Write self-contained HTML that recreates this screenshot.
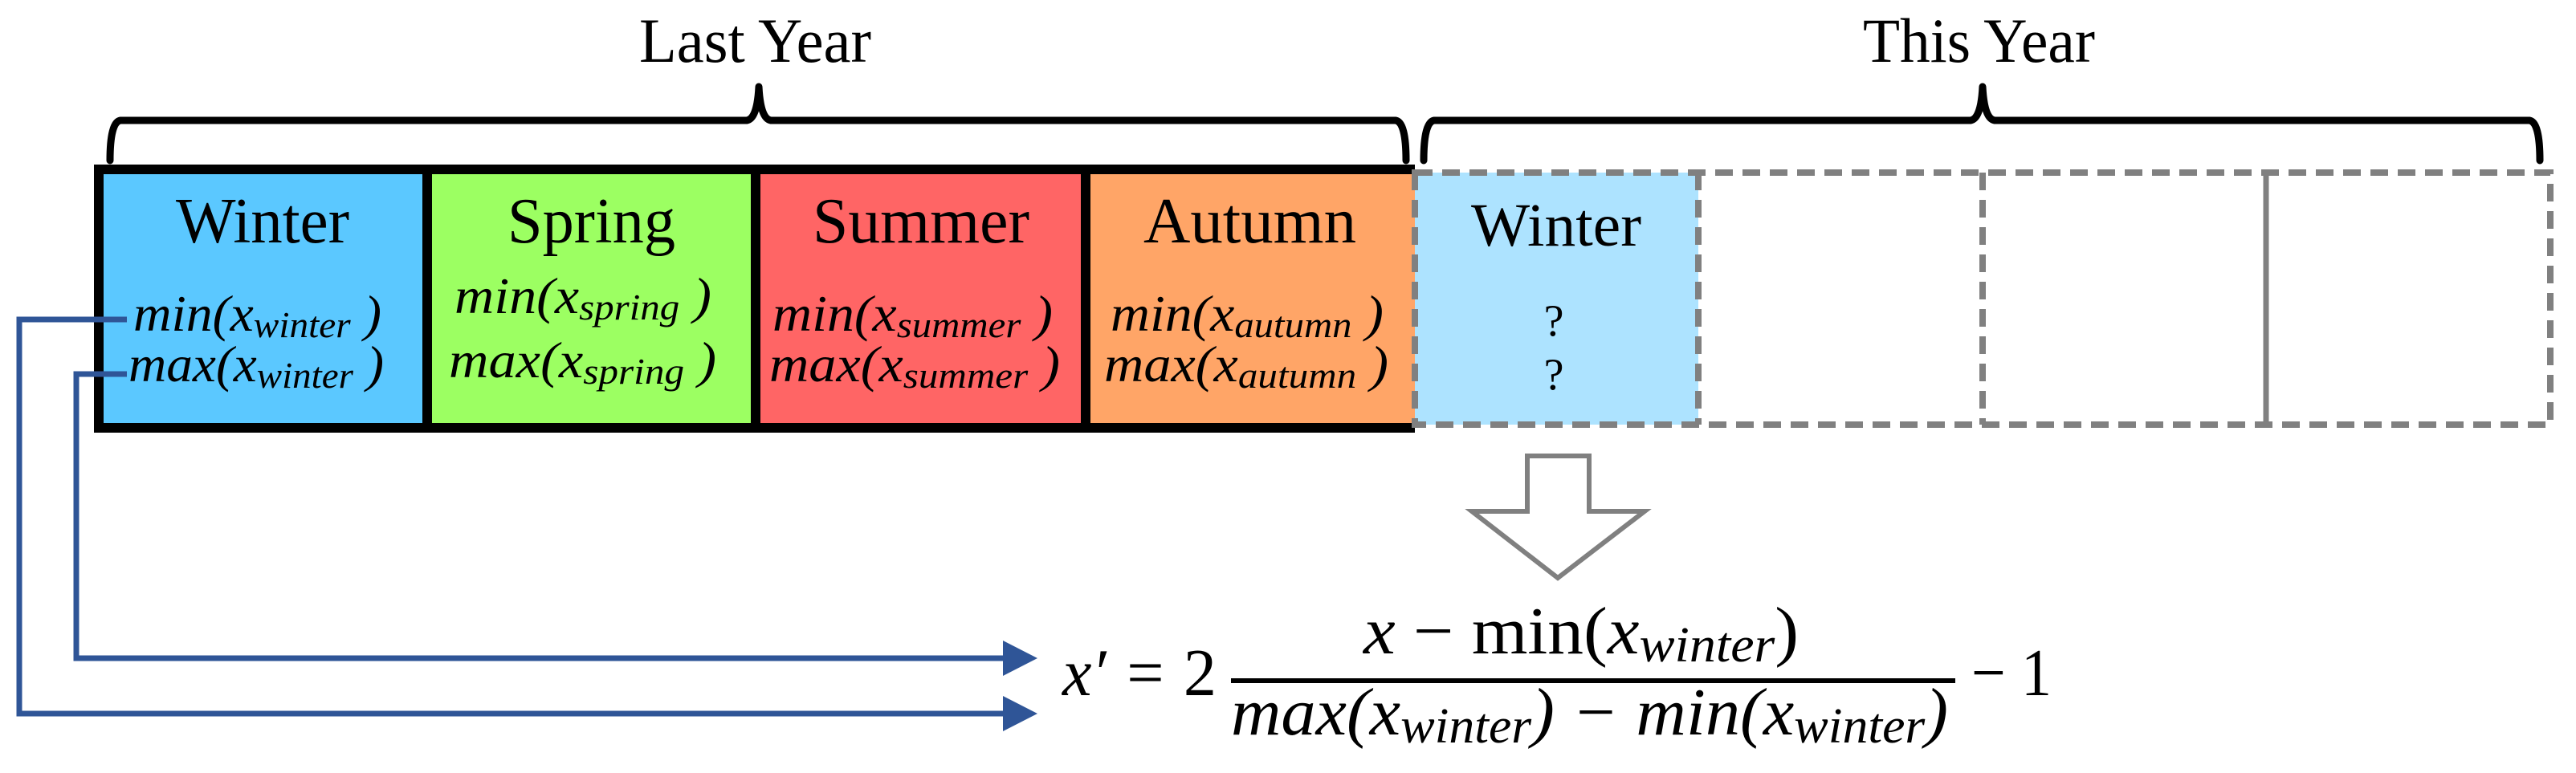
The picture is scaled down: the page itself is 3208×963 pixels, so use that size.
<!DOCTYPE html>
<html><head><meta charset="utf-8"><style>
html,body{margin:0;padding:0;background:#fff;}
svg{display:block;}
text{font-family:"Liberation Serif",serif;fill:#000;}
.it{font-style:italic;}
</style></head><body>
<svg width="3208" height="963" viewBox="0 0 3208 963" xmlns="http://www.w3.org/2000/svg">
<text x="796" y="77" font-size="78" textLength="289" lengthAdjust="spacingAndGlyphs">Last Year</text>
<text x="2320" y="77" font-size="78" textLength="289" lengthAdjust="spacingAndGlyphs">This Year</text>
<path d="M137 200 Q137 152 150 150 L930 150 Q943 148 945 108 Q947 148 960 150 L1738 150 Q1751 152 1751 200" fill="none" stroke="#000" stroke-width="9" stroke-linecap="round" stroke-linejoin="round"/>
<path d="M1773 200 Q1773 152 1786 150 L2454 150 Q2467 148 2469 108 Q2471 148 2484 150 L3150 150 Q3163 152 3163 200" fill="none" stroke="#000" stroke-width="9" stroke-linecap="round" stroke-linejoin="round"/>
<rect x="123" y="211" width="409" height="322" fill="#5BC8FF"/>
<rect x="532" y="211" width="409" height="322" fill="#9CFF62"/>
<rect x="941" y="211" width="411" height="322" fill="#FF6565"/>
<rect x="1352" y="211" width="410" height="322" fill="#FFA567"/>
<rect x="1762" y="215" width="353" height="314" fill="#ADE3FF"/>
<path d="M1762 211 L123 211 L123 533 L1762 533 M532 211 V533 M941 211 V533 M1352 211 V533" fill="none" stroke="#000" stroke-width="12"/>
<g fill="none" stroke="#808080" stroke-width="8" stroke-dasharray="22 12">
<rect x="1762" y="215" width="1414" height="314"/>
<path d="M2115 215 V529 M2469 215 V529"/>
</g>
<path d="M2822 215 V529" stroke="#808080" stroke-width="7"/>
<text x="219" y="302" font-size="80" textLength="216" lengthAdjust="spacingAndGlyphs">Winter</text>
<text x="632" y="302" font-size="80" textLength="209" lengthAdjust="spacingAndGlyphs">Spring</text>
<text x="1012" y="302" font-size="80" textLength="270" lengthAdjust="spacingAndGlyphs">Summer</text>
<text x="1424" y="302" font-size="80" textLength="265" lengthAdjust="spacingAndGlyphs">Autumn</text>
<text x="1832" y="306" font-size="76" textLength="212" lengthAdjust="spacingAndGlyphs">Winter</text>
<text x="1935" y="418" font-size="56" text-anchor="middle">?</text>
<text x="1935" y="485" font-size="56" text-anchor="middle">?</text>
<g font-size="64">
<text class="it" x="166" y="412" textLength="309" lengthAdjust="spacingAndGlyphs">min(x<tspan font-size="46" dy="8">winter</tspan><tspan dy="-8"> )</tspan></text>
<text class="it" x="160" y="475" textLength="318" lengthAdjust="spacingAndGlyphs">max(x<tspan font-size="46" dy="8">winter</tspan><tspan dy="-8"> )</tspan></text>
<text class="it" x="566" y="390" textLength="320" lengthAdjust="spacingAndGlyphs">min(x<tspan font-size="46" dy="8">spring</tspan><tspan dy="-8"> )</tspan></text>
<text class="it" x="559" y="470" textLength="333" lengthAdjust="spacingAndGlyphs">max(x<tspan font-size="46" dy="8">spring</tspan><tspan dy="-8"> )</tspan></text>
<text class="it" x="962" y="412" textLength="349" lengthAdjust="spacingAndGlyphs">min(x<tspan font-size="46" dy="8">summer</tspan><tspan dy="-8"> )</tspan></text>
<text class="it" x="958" y="475" textLength="362" lengthAdjust="spacingAndGlyphs">max(x<tspan font-size="46" dy="8">summer</tspan><tspan dy="-8"> )</tspan></text>
<text class="it" x="1383" y="412" textLength="340" lengthAdjust="spacingAndGlyphs">min(x<tspan font-size="46" dy="8">autumn</tspan><tspan dy="-8"> )</tspan></text>
<text class="it" x="1375" y="475" textLength="354" lengthAdjust="spacingAndGlyphs">max(x<tspan font-size="46" dy="8">autumn</tspan><tspan dy="-8"> )</tspan></text>
</g>
<g fill="none" stroke="#2F5597" stroke-width="7">
<path d="M158 398 H24 V889 H1252"/>
<path d="M158 466 H95 V820 H1252"/>
</g>
<path d="M1249 798 L1292 820 L1249 842 Z" fill="#2F5597"/>
<path d="M1249 867 L1292 889 L1249 911 Z" fill="#2F5597"/>
<path d="M1902 568 H1979 V637 H2048 L1940 720 L1833 637 H1902 Z" fill="#fff" stroke="#808080" stroke-width="6"/>
<text class="it" x="1323" y="866" font-size="84" textLength="192" lengthAdjust="spacingAndGlyphs">x′ = <tspan font-style="normal">2</tspan></text>
<text x="1698" y="814" font-size="84" textLength="542" lengthAdjust="spacingAndGlyphs"><tspan font-style="italic">x</tspan> − min(<tspan font-style="italic">x</tspan><tspan font-style="italic" font-size="62" dy="10">winter</tspan><tspan dy="-10">)</tspan></text>
<rect x="1533" y="845" width="902" height="6" fill="#000"/>
<text class="it" x="1533" y="915" font-size="84" textLength="893" lengthAdjust="spacingAndGlyphs">max(x<tspan font-size="62" dy="10">winter</tspan><tspan dy="-10">) − min(x</tspan><tspan font-size="62" dy="10">winter</tspan><tspan dy="-10">)</tspan></text>
<text x="2455" y="866" font-size="84" textLength="100" lengthAdjust="spacingAndGlyphs">− 1</text>
</svg>
</body></html>
